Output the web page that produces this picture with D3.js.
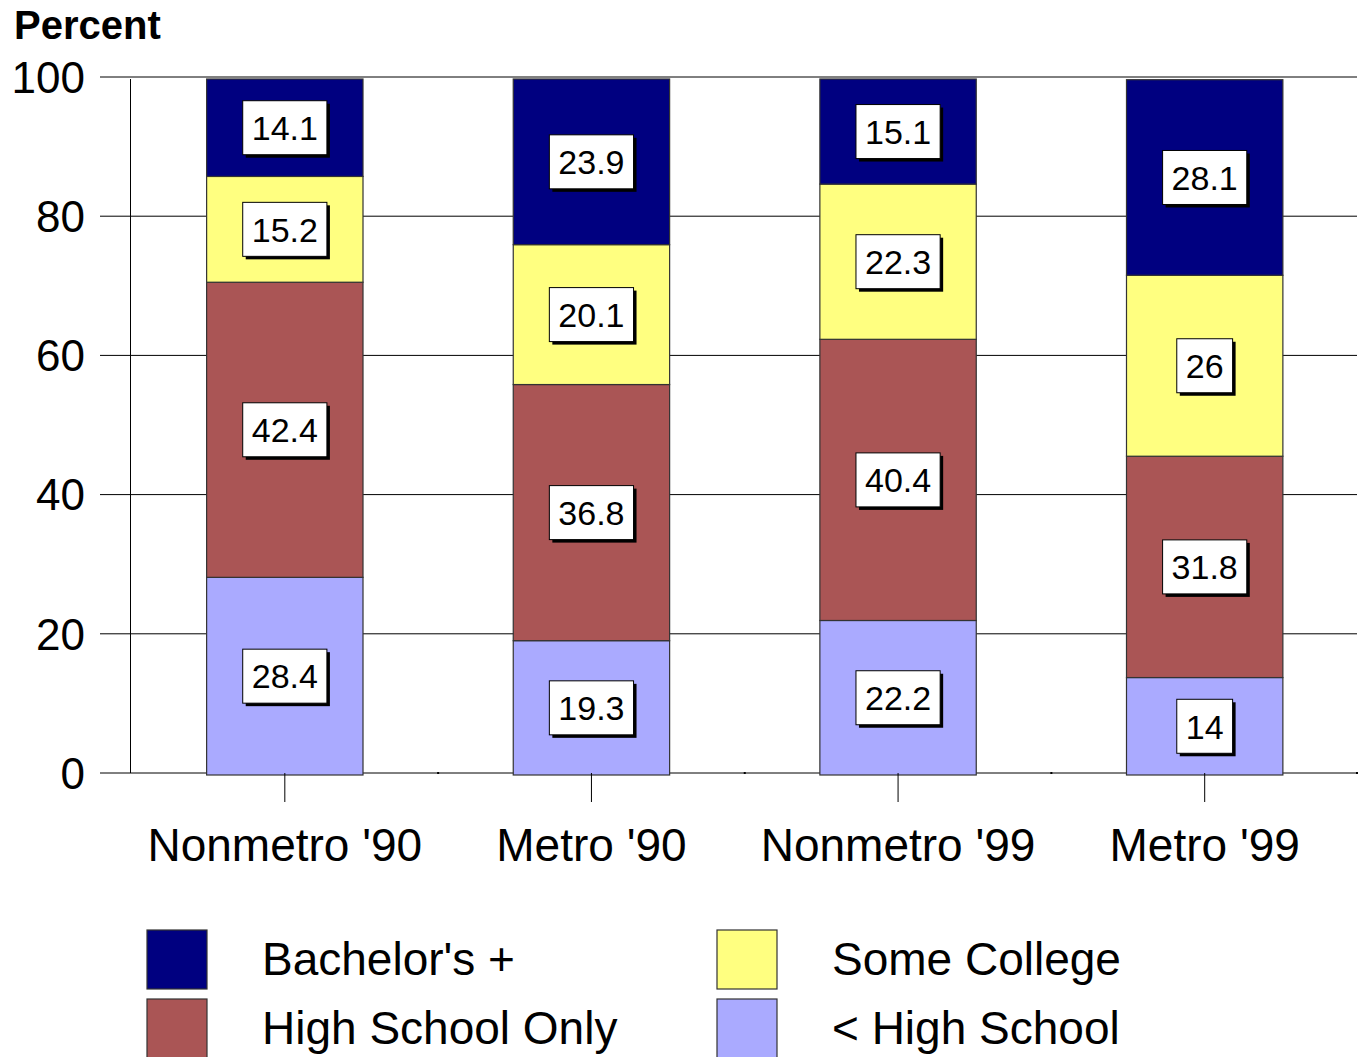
<!DOCTYPE html>
<html>
<head>
<meta charset="utf-8">
<script src="https://cdn.jsdelivr.net/npm/d3@7"></script>
<style>
  body { margin: 0; background: #fff; }
  svg { display: block; font-family: "Liberation Sans", Arial, sans-serif; }
</style>
</head>
<body>
<svg></svg>
<script>
var categories = ["Nonmetro '90", "Metro '90", "Nonmetro '99", "Metro '99"];
var seriesNames = ["< High School", "High School Only", "Some College", "Bachelor's +"];
var lessHS = [28.4, 19.3, 22.2, 14];
var hsOnly = [42.4, 36.8, 40.4, 31.8];
var someCollege = [15.2, 20.1, 22.3, 26];
var bachelors = [14.1, 23.9, 15.1, 28.1];
var yTicks = [0, 20, 40, 60, 80, 100];

var colors = ["#aaaaff", "#aa5555", "#ffff80", "#000080"];

var width = 1361, height = 1057;
var svg = d3.select("svg").attr("width", width).attr("height", height);

var x = d3.scaleBand().domain(categories).range([131.5, 1358])
    .paddingInner(0.49).paddingOuter(0.245);
var y = d3.scaleLinear().domain([0, 100]).range([775, 79]);

// rows for the stack
var rows = categories.map(function (c, i) {
    return {cat: c, "< High School": lessHS[i], "High School Only": hsOnly[i],
            "Some College": someCollege[i], "Bachelor's +": bachelors[i]};
});
var stacked = d3.stack().keys(seriesNames)(rows);

// gridlines + left ticks
svg.append("g").selectAll("line").data(yTicks).enter().append("line")
    .attr("x1", 100).attr("x2", 1357)
    .attr("y1", function (d) { return y(d) - 2; })
    .attr("y2", function (d) { return y(d) - 2; })
    .attr("stroke", "#000").attr("stroke-width", 1);

svg.append("g").selectAll("text").data(yTicks).enter().append("text")
    .attr("x", 85).attr("y", function (d) { return y(d) - 2; })
    .attr("dy", "0.36em").attr("text-anchor", "end")
    .attr("font-size", 44).text(function (d) { return d; });

// y axis line
svg.append("line").attr("x1", 130.5).attr("x2", 130.5)
    .attr("y1", y(100)).attr("y2", y(0) - 2).attr("stroke", "#000");

// bars
var layer = svg.append("g").selectAll("g").data(stacked).enter().append("g")
    .attr("fill", function (d, i) { return colors[i]; });

layer.selectAll("rect").data(function (d) { return d; }).enter().append("rect")
    .attr("x", function (d) { return x(d.data.cat); })
    .attr("width", x.bandwidth())
    .attr("y", function (d) { return y(Math.min(d[1], 100)); })
    .attr("height", function (d) { return y(d[0]) - y(Math.min(d[1], 100)); })
    .attr("stroke", "#333").attr("stroke-width", 1.2);

// x axis ticks
svg.append("g").selectAll("line").data(categories).enter().append("line")
    .attr("x1", function (d) { return x(d) + x.bandwidth() / 2; })
    .attr("x2", function (d) { return x(d) + x.bandwidth() / 2; })
    .attr("y1", 773).attr("y2", 802).attr("stroke", "#000");

svg.append("g").selectAll("rect").data(categories.slice(1)).enter().append("rect")
    .attr("x", function (d) { return x(d) - x.step() * x.paddingInner() / 2 - 1; })
    .attr("y", 772).attr("width", 2).attr("height", 2).attr("fill", "#000");
svg.append("rect").attr("x", 1356).attr("y", 772).attr("width", 2).attr("height", 2).attr("fill", "#000");

// category labels
svg.append("g").selectAll("text").data(categories).enter().append("text")
    .attr("x", function (d) { return x(d) + x.bandwidth() / 2; })
    .attr("y", 861).attr("text-anchor", "middle")
    .attr("font-size", 46).text(function (d) { return d; });

// value labels
var labels = [];
stacked.forEach(function (s) {
    s.forEach(function (d) {
        labels.push({cat: d.data.cat, v: d.data[s.key], mid: (d[0] + Math.min(d[1], 100)) / 2});
    });
});

var lab = svg.append("g").selectAll("g").data(labels).enter().append("g")
    .attr("transform", function (d) {
        return "translate(" + (x(d.cat) + x.bandwidth() / 2) + "," + y(d.mid) + ")";
    });
lab.append("text")
    .attr("class", "val")
    .attr("text-anchor", "middle").attr("dy", "0.36em")
    .attr("font-size", 34).text(function (d) { return d.v; });
lab.each(function () {
    var g = d3.select(this);
    var bb = g.select("text").node().getBBox();
    var w = bb.width + 18, h = 54;
    g.insert("rect", "text").attr("x", -w / 2 + 3).attr("y", -h / 2 + 3)
        .attr("width", w).attr("height", h).attr("fill", "#000");
    g.insert("rect", "text").attr("x", -w / 2).attr("y", -h / 2)
        .attr("width", w).attr("height", h).attr("fill", "#fff")
        .attr("stroke", "#000").attr("stroke-width", 1);
});

// title
svg.append("text").attr("x", 14).attr("y", 39)
    .attr("font-size", 40).attr("font-weight", "bold").text("Percent");

// legend
var legendOrder = [3, 2, 1, 0];
var leg = svg.append("g").selectAll("g").data(legendOrder).enter().append("g")
    .attr("transform", function (d, i) {
        return "translate(" + (i % 2 === 0 ? 147 : 717) + "," + (930 + Math.floor(i / 2) * 69) + ")";
    });
leg.append("rect").attr("width", 60).attr("height", 59)
    .attr("fill", function (d) { return colors[d]; })
    .attr("stroke", "#333").attr("stroke-width", 1.2);
leg.append("text").attr("x", 115).attr("y", 45)
    .attr("font-size", 46).text(function (d) { return seriesNames[d]; });
</script>
</body>
</html>
